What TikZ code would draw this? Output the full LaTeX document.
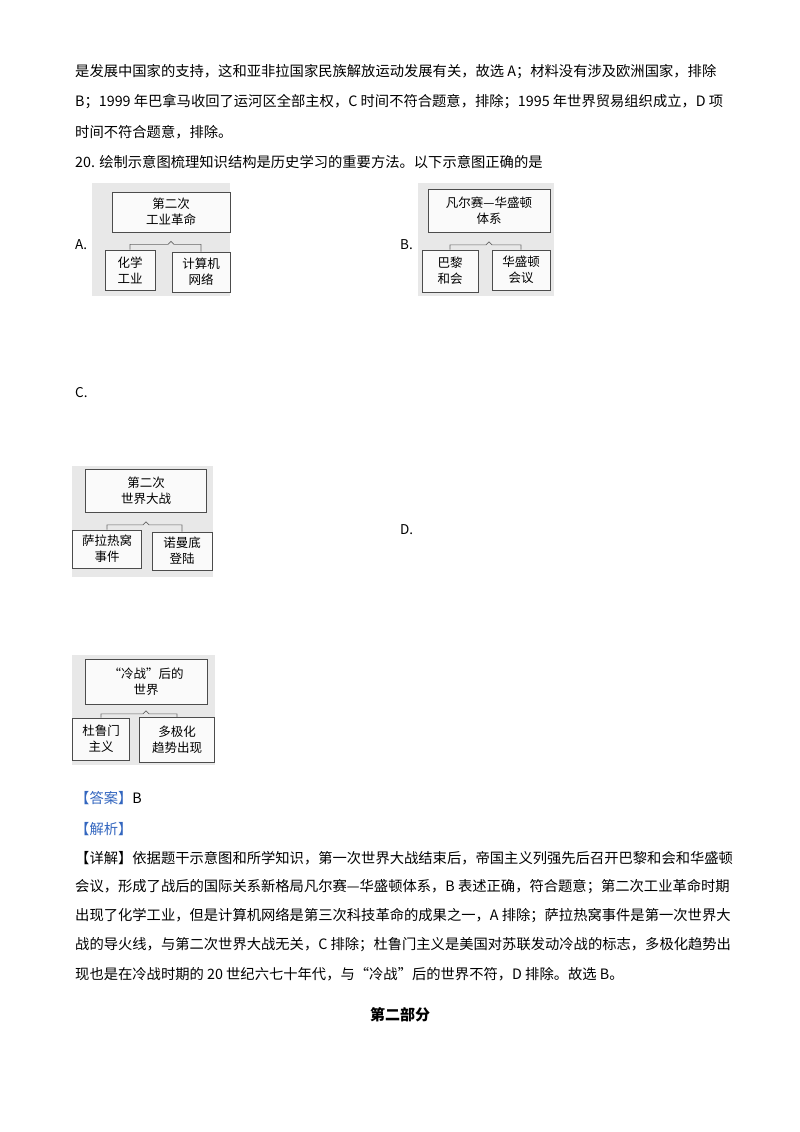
\documentclass[tikz,border=0pt]{standalone}
\usepackage{fontspec}
\setmainfont{Noto Sans CJK SC}
\begin{document}
\begin{tikzpicture}[x=1pt,y=-1pt,
  txt/.style={anchor=west,inner sep=0,font=\fontsize{14.3}{17}\selectfont},
  bg/.style={fill=black!9,draw=none},
  box/.style={draw=black!70,fill=black!2,line width=0.8pt,align=center,inner sep=0,font=\fontsize{12.5}{16}\selectfont},
  br/.style={draw=black!60,line width=0.6pt},
  lab/.style={anchor=west,inner sep=0,font=\fontsize{13.5}{15}\selectfont}]
\useasboundingbox (0,0) rectangle (800,1132);
\fill[white] (0,0) rectangle (800,1132);
\node[txt] (l1) at (75,72) {是发展中国家的支持，这和亚非拉国家民族解放运动发展有关，故选 A；材料没有涉及欧洲国家，排除};
\node[txt] (l2) at (75,102) {B；1999 年巴拿马收回了运河区全部主权，C 时间不符合题意，排除；1995 年世界贸易组织成立，D 项};
\node[txt] (l3) at (75,132) {时间不符合题意，排除。};
\node[txt] (l4) at (75,162) {20. 绘制示意图梳理知识结构是历史学习的重要方法。以下示意图正确的是};
% A
\fill[bg] (92,183) rectangle (230,296);
\node[lab] (la) at (75,245) {A.};
\node[box,minimum width=118,minimum height=40] (at) at (171,212) {第二次\\工业革命};
\node[box,minimum width=50,minimum height=40] (al) at (130,270) {化学\\工业};
\node[box,minimum width=58,minimum height=40] (ar) at (201,272) {计算机\\网络};
\coordinate (am) at ([yshift=-9pt]at.south);
\draw[br] (al.north) |- ([xshift=-3pt,yshift=-3pt]am) -- (am) -- ([xshift=3pt,yshift=-3pt]am) -| (ar.north);
% B
\fill[bg] (418,183) rectangle (554,296);
\node[lab] (lb) at (400,245) {B.};
\node[box,minimum width=122,minimum height=43] (bt) at (489,211) {凡尔赛—华盛顿\\体系};
\node[box,minimum width=56,minimum height=42] (bl) at (450,271) {巴黎\\和会};
\node[box,minimum width=58,minimum height=40] (bb) at (521,270) {华盛顿\\会议};
\coordinate (bm) at ([yshift=-9pt]bt.south);
\draw[br] (bl.north) |- ([xshift=-3pt,yshift=-3pt]bm) -- (bm) -- ([xshift=3pt,yshift=-3pt]bm) -| (bb.north);
% C
\node[lab] (lc) at (75,393) {C.};
\fill[bg] (72,466) rectangle (213,577);
\node[box,minimum width=121,minimum height=43] (ct) at (146,491) {第二次\\世界大战};
\node[box,minimum width=69,minimum height=38] (cl) at (107,549) {萨拉热窝\\事件};
\node[box,minimum width=60,minimum height=38] (cr) at (182,551) {诺曼底\\登陆};
\coordinate (cm) at ([yshift=-9pt]ct.south);
\draw[br] (cl.north) |- ([xshift=-3pt,yshift=-3pt]cm) -- (cm) -- ([xshift=3pt,yshift=-3pt]cm) -| (cr.north);
% D
\node[lab] (ld) at (400,530) {D.};
\fill[bg] (72,655) rectangle (215,765);
\node[box,minimum width=122,minimum height=45] (dt) at (146,682) {“冷战”后的\\世界};
\node[box,minimum width=57,minimum height=42] (dl) at (101,739) {杜鲁门\\主义};
\node[box,minimum width=75,minimum height=45] (dr) at (177,740) {多极化\\趋势出现};
\coordinate (dm) at ([yshift=-6pt]dt.south);
\draw[br] (dl.north) |- ([xshift=-3pt,yshift=-3pt]dm) -- (dm) -- ([xshift=3pt,yshift=-3pt]dm) -| (dr.north);
% answer
\node[txt] (ans) at (75,798) {\textcolor[rgb]{0.2,0.4,0.75}{【答案】}B};
\node[txt] (jx) at (75,829) {\textcolor[rgb]{0.2,0.4,0.75}{【解析】}};
\node[txt] (p1) at (75,858) {【详解】依据题干示意图和所学知识，第一次世界大战结束后，帝国主义列强先后召开巴黎和会和华盛顿};
\node[txt] (p2) at (75,887) {会议，形成了战后的国际关系新格局凡尔赛—华盛顿体系，B 表述正确，符合题意；第二次工业革命时期};
\node[txt] (p3) at (75,916) {出现了化学工业，但是计算机网络是第三次科技革命的成果之一，A 排除；萨拉热窝事件是第一次世界大};
\node[txt] (p4) at (75,945) {战的导火线，与第二次世界大战无关，C 排除；杜鲁门主义是美国对苏联发动冷战的标志，多极化趋势出};
\node[txt] (p5) at (75,974) {现也是在冷战时期的 20 世纪六七十年代，与“冷战”后的世界不符，D 排除。故选 B。};
\node[inner sep=0,font=\fontsize{15}{17}\selectfont\bfseries] (part) at (400,1015) {第二部分};
\end{tikzpicture}
\end{document}
